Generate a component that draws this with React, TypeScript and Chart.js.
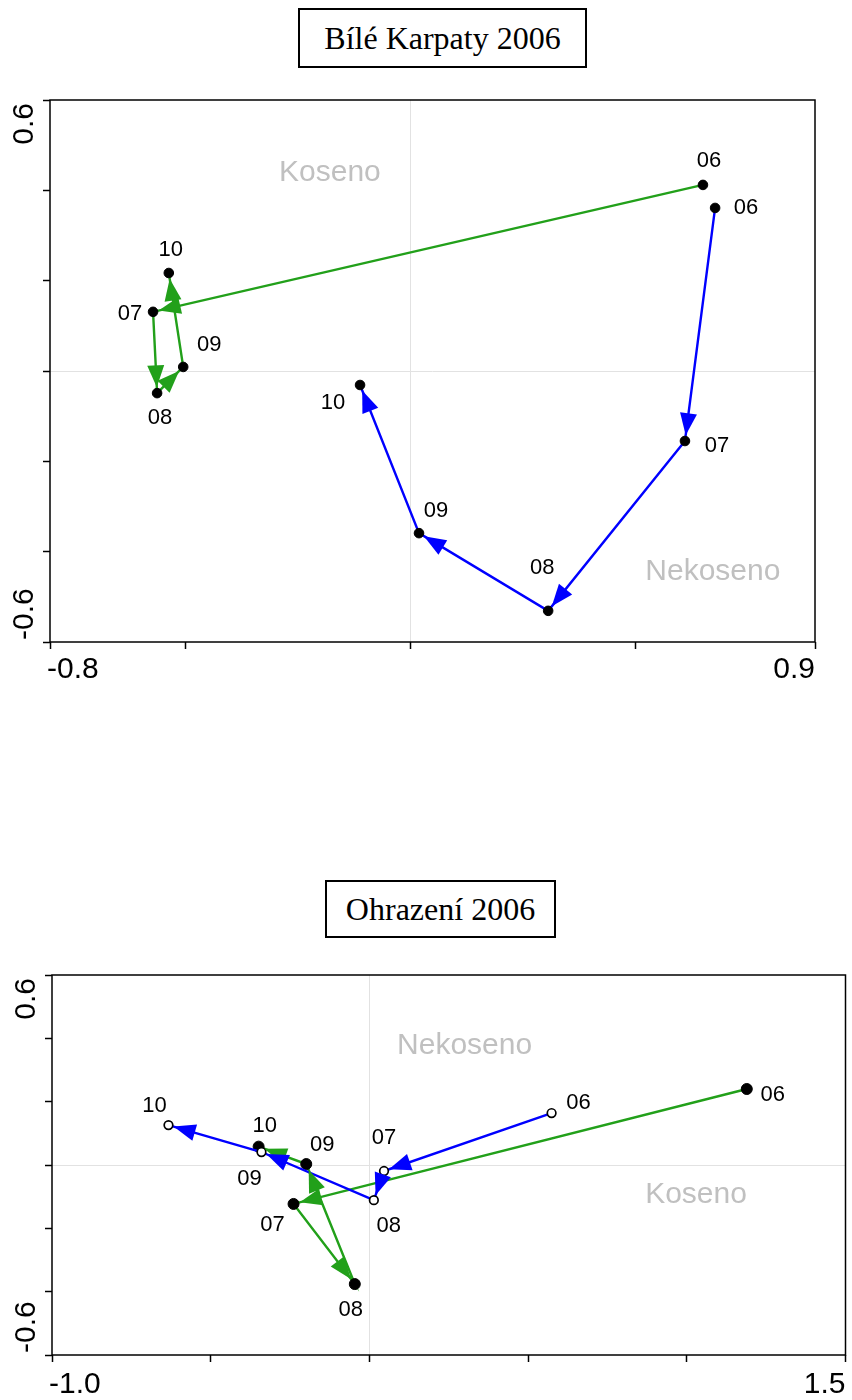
import React, { useEffect, useRef } from 'react';
import { Chart, registerables } from 'chart.js';

Chart.register(...registerables);

// ---------- shared ----------
const pointLabels = ['06', '07', '08', '09', '10'];

// ---------- Chart 1: Bílé Karpaty 2006 ----------
const bkTitle = 'Bílé Karpaty 2006';
const bkBlueX = [0.678, 0.611, 0.307, 0.02, -0.111];
const bkBlueY = [0.361, -0.155, -0.531, -0.359, -0.031];
const bkGreenX = [0.651, -0.571, -0.562, -0.504, -0.536];
const bkGreenY = [0.412, 0.131, -0.049, 0.009, 0.217];
const bkXTicks = [-0.8, -0.5, 0, 0.5, 0.9];
const bkXTickLabels = ['-0.8', '', '', '', '0.9'];
const bkYTicks = [-0.6, -0.4, -0.2, 0, 0.2, 0.4, 0.6];
const bkYTickLabels = ['-0.6', '', '', '', '', '', '0.6'];
const bkRegionNames = ['Koseno', 'Nekoseno'];
const bkRegionX = [-0.178, 0.673];
const bkRegionY = [0.438, -0.445];

// ---------- Chart 2: Ohrazení 2006 ----------
const ohTitle = 'Ohrazení 2006';
const ohBlueX = [0.574, 0.046, 0.014, -0.34, -0.633];
const ohBlueY = [0.164, -0.019, -0.111, 0.041, 0.126];
const ohGreenX = [1.189, -0.239, -0.046, -0.199, -0.349];
const ohGreenY = [0.24, -0.123, -0.376, 0.003, 0.058];
const ohXTicks = [-1.0, -0.5, 0, 0.5, 1.0, 1.5];
const ohXTickLabels = ['-1.0', '', '', '', '', '1.5'];
const ohYTicks = [-0.6, -0.4, -0.2, 0, 0.2, 0.4, 0.6];
const ohYTickLabels = ['-0.6', '', '', '', '', '', '0.6'];
const ohRegionNames = ['Nekoseno', 'Koseno'];
const ohRegionX = [0.3, 1.029];
const ohRegionY = [0.376, -0.095];

// ---------- label placement (styling, pixel offsets from the marker) ----------
const bkBlueLabelDx = [31, 32, -6, 17, -27];
const bkBlueLabelDy = [0, 5, -43, -22, 18];
const bkGreenLabelDx = [6, -23, 3, 26, 2];
const bkGreenLabelDy = [-24, 2, 25, -22, -23];
const ohBlueLabelDx = [27, 0, 15, -12, -14];
const ohBlueLabelDy = [-10, -33, 26, 27, -19];
const ohGreenLabelDx = [26, -21, -4, 16, 6];
const ohGreenLabelDy = [6, 21, 26, -19, -21];

const BLUE = '#0000ff';
const GREEN = '#22a01a';
const SANS = '"Liberation Sans", Arial, Helvetica, sans-serif';

const ordinationPlugin = {
  id: 'ordination',
  beforeDatasetsDraw(chart: any, _args: any, opts: any) {
    const { ctx, scales } = chart;
    const x = scales.x;
    const y = scales.y;
    ctx.save();
    ctx.font = '30px ' + SANS;
    ctx.fillStyle = '#c0c0c0';
    ctx.textAlign = 'center';
    ctx.textBaseline = 'middle';
    opts.regionNames.forEach((t: string, i: number) => {
      ctx.fillText(t, x.getPixelForValue(opts.regionX[i]), y.getPixelForValue(opts.regionY[i]));
    });
    ctx.restore();
  },
  afterDatasetsDraw(chart: any, _args: any, opts: any) {
    const { ctx, chartArea, scales } = chart;
    const xs = scales.x;
    const ys = scales.y;
    ctx.save();
    // arrowheads (draw last dataset first so dataset 0 is on top)
    const n = chart.data.datasets.length;
    for (let di = n - 1; di >= 0; di--) {
      const ds = chart.data.datasets[di];
      const pts = chart.getDatasetMeta(di).data;
      const r = opts.tipGap[di];
      ctx.fillStyle = ds.borderColor;
      for (let i = 1; i < pts.length; i++) {
        const p0 = pts[i - 1];
        const p1 = pts[i];
        const dx = p1.x - p0.x;
        const dy = p1.y - p0.y;
        const len = Math.hypot(dx, dy) || 1;
        const ux = dx / len;
        const uy = dy / len;
        const tx = p1.x - ux * r;
        const ty = p1.y - uy * r;
        const L = 22;
        const W = 8.5;
        const bx = tx - ux * L;
        const by = ty - uy * L;
        ctx.beginPath();
        ctx.moveTo(tx, ty);
        ctx.lineTo(bx - uy * W, by + ux * W);
        ctx.lineTo(bx + uy * W, by - ux * W);
        ctx.closePath();
        ctx.fill();
      }
    }
    // point labels
    ctx.font = '22px ' + SANS;
    ctx.fillStyle = '#000';
    ctx.textAlign = 'center';
    ctx.textBaseline = 'middle';
    for (let di = 0; di < n; di++) {
      const pts = chart.getDatasetMeta(di).data;
      pts.forEach((p: any, i: number) => {
        ctx.fillText(opts.pointLabels[i], p.x + opts.labelDx[di][i], p.y + opts.labelDy[di][i]);
      });
    }
    // frame
    ctx.strokeStyle = '#000';
    ctx.lineWidth = 1.5;
    ctx.strokeRect(chartArea.left, chartArea.top, chartArea.right - chartArea.left, chartArea.bottom - chartArea.top);
    // x tick labels
    ctx.font = '30px ' + SANS;
    ctx.textBaseline = 'alphabetic';
    const xl = opts.xTicks.length;
    opts.xTicks.forEach((v: number, i: number) => {
      const t = opts.xTickLabels[i];
      if (!t) return;
      ctx.textAlign = i === 0 ? 'left' : i === xl - 1 ? 'right' : 'center';
      const px = xs.getPixelForValue(v) + (i === 0 ? -3 : 0);
      ctx.fillText(t, px, chartArea.bottom + opts.xLabelBaseline);
    });
    // y tick labels (rotated)
    const yl = opts.yTicks.length;
    opts.yTicks.forEach((v: number, i: number) => {
      const t = opts.yTickLabels[i];
      if (!t) return;
      const py = ys.getPixelForValue(v);
      ctx.save();
      ctx.translate(chartArea.left - 17, py);
      ctx.rotate(-Math.PI / 2);
      ctx.textAlign = i === 0 ? 'left' : i === yl - 1 ? 'right' : 'center';
      ctx.fillText(t, i === 0 ? 2 : i === yl - 1 ? -3 : 0, 0);
      ctx.restore();
    });
    ctx.restore();
  },
};

function axis(min: number, max: number, ticks: number[]) {
  return {
    type: 'linear',
    min,
    max,
    afterBuildTicks: (s: any) => {
      s.ticks = ticks.map((v) => ({ value: v }));
    },
    ticks: { display: false },
    border: { display: false },
    grid: {
      drawTicks: true,
      tickLength: 7,
      tickColor: '#000',
      tickWidth: 1.5,
      color: (c: any) => (c.tick && Math.abs(c.tick.value) < 1e-9 ? '#e2e2e2' : 'rgba(0,0,0,0)'),
      lineWidth: 1,
    },
  };
}

function buildConfig(c: any) {
  const blue = c.blueX.map((x: number, i: number) => ({ x, y: c.blueY[i] }));
  const green = c.greenX.map((x: number, i: number) => ({ x, y: c.greenY[i] }));
  return {
    type: 'scatter',
    data: {
      datasets: [
        {
          label: 'blue',
          data: blue,
          showLine: true,
          borderColor: BLUE,
          borderWidth: 2.4,
          pointRadius: c.blueRadius,
          pointBackgroundColor: c.blueFill,
          pointBorderColor: '#000',
          pointBorderWidth: c.blueBorder,
        },
        {
          label: 'green',
          data: green,
          showLine: true,
          borderColor: GREEN,
          borderWidth: 2.4,
          pointRadius: c.greenRadius,
          pointBackgroundColor: '#000',
          pointBorderColor: '#000',
          pointBorderWidth: 1,
        },
      ],
    },
    options: {
      responsive: false,
      animation: false,
      devicePixelRatio: 1,
      layout: { padding: c.padding },
      elements: { line: { tension: 0 } },
      plugins: {
        legend: { display: false },
        tooltip: { enabled: false },
        ordination: {
          regionNames: c.regionNames,
          regionX: c.regionX,
          regionY: c.regionY,
          pointLabels,
          labelDx: [c.blueDx, c.greenDx],
          labelDy: [c.blueDy, c.greenDy],
          tipGap: [c.blueRadius + 1, c.greenRadius + 1],
          xTicks: c.xTicks,
          xTickLabels: c.xTickLabels,
          yTicks: c.yTicks,
          yTickLabels: c.yTickLabels,
          xLabelBaseline: c.xLabelBaseline,
        },
      },
      scales: {
        x: axis(c.xMin, c.xMax, c.xTicks),
        y: axis(c.yMin, c.yMax, c.yTicks),
      },
    },
    plugins: [ordinationPlugin],
  };
}

function OrdinationChart({ cfg, top, height }: { cfg: any; top: number; height: number }) {
  const ref = useRef<HTMLCanvasElement | null>(null);
  useEffect(() => {
    if (!ref.current) return;
    const chart = new Chart(ref.current, buildConfig(cfg) as any);
    return () => chart.destroy();
  }, [cfg]);
  return (
    <canvas
      ref={ref}
      width={852}
      height={height}
      style={{ position: 'absolute', left: 0, top, width: 852, height, display: 'block' }}
    />
  );
}

const chart1 = {
  blueX: bkBlueX, blueY: bkBlueY, greenX: bkGreenX, greenY: bkGreenY,
  blueDx: bkBlueLabelDx, blueDy: bkBlueLabelDy, greenDx: bkGreenLabelDx, greenDy: bkGreenLabelDy,
  blueRadius: 4.8, blueFill: '#000', blueBorder: 1, greenRadius: 4.8,
  regionNames: bkRegionNames, regionX: bkRegionX, regionY: bkRegionY,
  xMin: -0.8, xMax: 0.9, yMin: -0.6, yMax: 0.6,
  xTicks: bkXTicks, xTickLabels: bkXTickLabels, yTicks: bkYTicks, yTickLabels: bkYTickLabels,
  padding: { top: 100, left: 43, right: 37, bottom: 51 },
  xLabelBaseline: 36,
};

const chart2 = {
  blueX: ohBlueX, blueY: ohBlueY, greenX: ohGreenX, greenY: ohGreenY,
  blueDx: ohBlueLabelDx, blueDy: ohBlueLabelDy, greenDx: ohGreenLabelDx, greenDy: ohGreenLabelDy,
  blueRadius: 4.3, blueFill: '#fff', blueBorder: 1.7, greenRadius: 5.5,
  regionNames: ohRegionNames, regionX: ohRegionX, regionY: ohRegionY,
  xMin: -1.0, xMax: 1.5, yMin: -0.6, yMax: 0.6,
  xTicks: ohXTicks, xTickLabels: ohXTickLabels, yTicks: ohYTicks, yTickLabels: ohYTickLabels,
  padding: { top: 275, left: 45, right: 4, bottom: 38 },
  xLabelBaseline: 38,
};

const titleStyle: React.CSSProperties = {
  position: 'absolute',
  boxSizing: 'border-box',
  border: '2px solid #000',
  display: 'flex',
  alignItems: 'center',
  justifyContent: 'center',
  fontFamily: '"Liberation Serif", "Times New Roman", serif',
  fontSize: 32,
  color: '#000',
  background: '#fff',
  zIndex: 2,
  whiteSpace: 'nowrap',
};

export default function App() {
  return (
    <div style={{ position: 'absolute', left: 0, top: 0, width: 852, height: 1400, background: '#fff', overflow: 'hidden' }}>
      <OrdinationChart cfg={chart1} top={0} height={700} />
      <OrdinationChart cfg={chart2} top={700} height={700} />
      <div style={{ ...titleStyle, left: 298, top: 8, width: 289, height: 60 }}>{bkTitle}</div>
      <div style={{ ...titleStyle, left: 325, top: 880, width: 231, height: 58 }}>{ohTitle}</div>
    </div>
  );
}
